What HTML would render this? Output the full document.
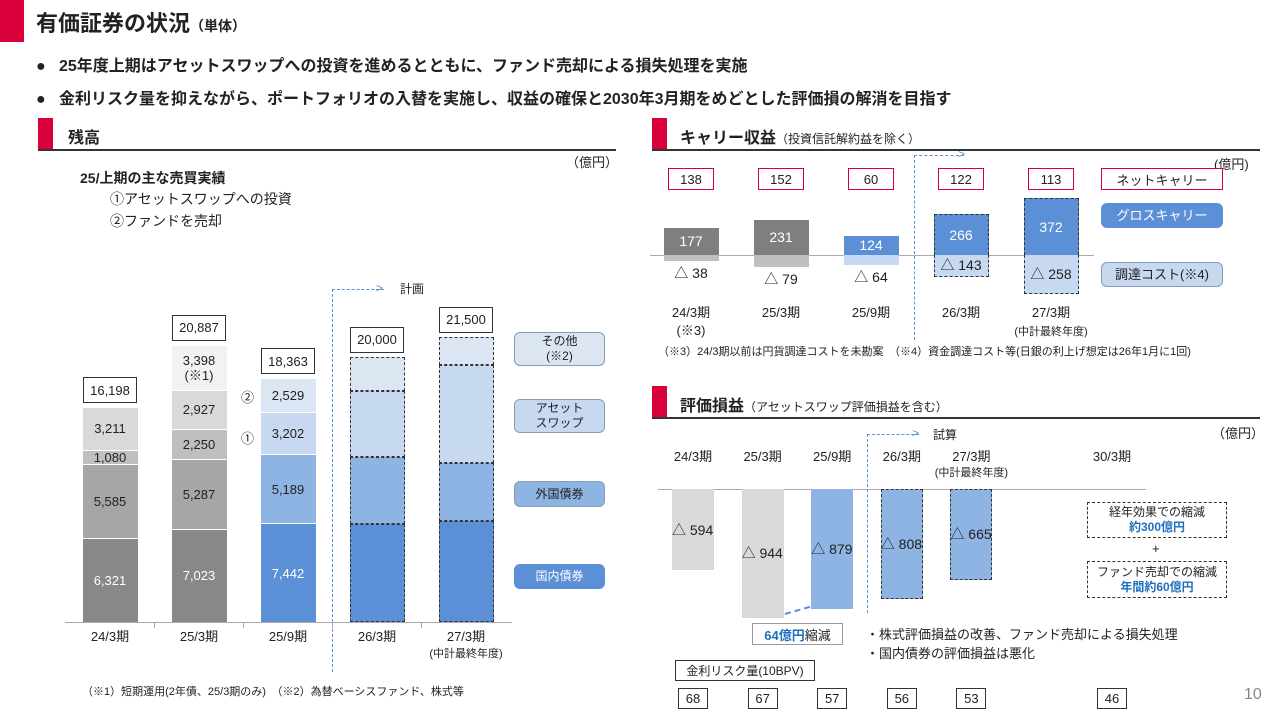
<!DOCTYPE html>
<html><head><meta charset="utf-8">
<style>
*{margin:0;padding:0;box-sizing:border-box}
body{width:1280px;height:720px;background:#fff;position:relative;overflow:hidden;font-family:"Liberation Sans","Noto Sans CJK JP",sans-serif;color:#222}
.a{position:absolute;white-space:nowrap}
.b{font-weight:bold}
.box{position:absolute;border:1px solid #333;background:#fff;display:flex;align-items:center;justify-content:center;font-size:13px}
.leg{position:absolute;border:1px solid #8a9ab0;border-radius:6px;display:flex;align-items:center;justify-content:center;text-align:center;font-size:12px;line-height:15px}
.seg{position:absolute;display:flex;align-items:center;justify-content:center;text-align:center;font-size:13px;line-height:15px}
.ctr{transform:translateX(-50%);text-align:center}
</style></head><body>
<div class="a" style="left:0;top:0;width:24px;height:42px;background:#d9003a"></div>
<div class="a b" style="left:36px;top:6px;font-size:22px">有価証券の状況<span style="font-size:14px">（単体）</span></div>
<div class="a b" style="left:36px;top:52px;font-size:16px">●&nbsp;&nbsp;&nbsp;25年度上期はアセットスワップへの投資を進めるとともに、ファンド売却による損失処理を実施</div>
<div class="a b" style="left:36px;top:85px;font-size:16px">●&nbsp;&nbsp;&nbsp;金利リスク量を抑えながら、ポートフォリオの入替を実施し、収益の確保と2030年3月期をめどとした評価損の解消を目指す</div>

<div class="a" style="left:38px;top:118px;width:15px;height:32px;background:#d9003a"></div>
<div class="a b" style="left:68px;top:124px;font-size:16px">残高</div>
<div class="a" style="left:38px;top:149px;width:578px;height:2px;background:#333"></div>
<div class="a" style="left:652px;top:118px;width:15px;height:32px;background:#d9003a"></div>
<div class="a b" style="left:680px;top:124px;font-size:16px">キャリー収益<span style="font-size:12px;font-weight:normal">（投資信託解約益を除く）</span></div>
<div class="a" style="left:652px;top:149px;width:608px;height:2px;background:#333"></div>
<div class="a" style="left:652px;top:386px;width:15px;height:32px;background:#d9003a"></div>
<div class="a b" style="left:680px;top:392px;font-size:16px">評価損益<span style="font-size:12px;font-weight:normal">（アセットスワップ評価損益を含む）</span></div>
<div class="a" style="left:652px;top:417px;width:608px;height:2px;background:#333"></div>

<div class="a" style="left:566px;top:152px;font-size:13px">（億円）</div>
<div class="a b" style="left:80px;top:168px;font-size:14px">25/上期の主な売買実績</div>
<div class="a" style="left:110px;top:189px;font-size:14px">①アセットスワップへの投資</div>
<div class="a" style="left:110px;top:211px;font-size:14px">②ファンドを売却</div>
<div class="a" style="left:241px;top:387px;font-size:13px">②</div>
<div class="a" style="left:241px;top:428px;font-size:13px">①</div>
<div class="a" style="left:82px;top:683px;font-size:11px">（※1）短期運用(2年債、25/3期のみ)　（※2）為替ベーシスファンド、株式等</div>

<div class="leg" style="left:514px;top:332px;width:91px;height:34px;background:#dce6f2">その他<br>(※2)</div>
<div class="leg" style="left:514px;top:399px;width:91px;height:34px;background:#c6d9f1">アセット<br>スワップ</div>
<div class="leg" style="left:514px;top:481px;width:91px;height:26px;background:#8eb4e3">外国債券</div>
<div class="leg" style="left:514px;top:564px;width:91px;height:25px;background:#5b8fd6;color:#fff;border-color:#5b8fd6">国内債券</div>

<div class="a" style="left:332px;top:289px;width:0;height:383px;border-left:1px dashed #5b8fd6"></div>
<div class="a" style="left:332px;top:289px;width:52px;height:0;border-top:1px dashed #5b8fd6"></div>
<div class="a" style="left:376px;top:281px;font-size:12px;color:#5b8fd6">&gt;</div>
<div class="a" style="left:400px;top:280px;font-size:12px">計画</div>

<div class="a" style="left:1214px;top:154px;font-size:13px">(億円)</div>
<div class="box" style="left:1101px;top:168px;width:122px;height:22px;border-color:#d9003a">ネットキャリー</div>
<div class="leg" style="left:1101px;top:203px;width:122px;height:25px;background:#5b8fd6;color:#fff;border-color:#5b8fd6;font-size:13px">グロスキャリー</div>
<div class="leg" style="left:1101px;top:262px;width:122px;height:25px;background:#c6d9f1;font-size:13px">調達コスト(※4)</div>
<div class="a" style="left:914px;top:155px;width:0;height:185px;border-left:1px dashed #5b8fd6"></div>
<div class="a" style="left:914px;top:155px;width:50px;height:0;border-top:1px dashed #5b8fd6"></div>
<div class="a" style="left:958px;top:147px;font-size:12px;color:#5b8fd6">&gt;</div>
<div class="a" style="left:658px;top:343px;font-size:11px">（※3）24/3期以前は円貨調達コストを未勘案　（※4）資金調達コスト等(日銀の利上げ想定は26年1月に1回)</div>

<div class="a" style="left:1212px;top:423px;font-size:13px">（億円）</div>
<div class="a" style="left:867px;top:434px;width:0;height:179px;border-left:1px dashed #5b8fd6"></div>
<div class="a" style="left:867px;top:434px;width:52px;height:0;border-top:1px dashed #5b8fd6"></div>
<div class="a" style="left:912px;top:426px;font-size:12px;color:#5b8fd6">&gt;</div>
<div class="a" style="left:933px;top:426px;font-size:12px">試算</div>
<div class="box" style="left:1087px;top:502px;width:140px;height:36px;border:1px dashed #333;flex-direction:column;font-size:12px;line-height:15px">経年効果での縮減<span class="b" style="color:#1f6fbf">約300億円</span></div>
<div class="a" style="left:1152px;top:541px;font-size:13px">+</div>
<div class="box" style="left:1087px;top:561px;width:140px;height:37px;border:1px dashed #333;flex-direction:column;font-size:12px;line-height:15px">ファンド売却での縮減<span class="b" style="color:#1f6fbf">年間約60億円</span></div>
<div class="box" style="left:752px;top:623px;width:91px;height:22px;border-color:#999;font-size:13px"><span class="b" style="color:#1f6fbf">64億円</span>縮減</div>
<div class="a" style="left:785px;top:613px;width:26px;height:0;border-top:2px dashed #5b8fd6;transform:rotate(-16deg);transform-origin:left"></div>
<div class="a" style="left:866px;top:624px;font-size:13px">・株式評価損益の改善、ファンド売却による損失処理</div>
<div class="a" style="left:866px;top:643px;font-size:13px">・国内債券の評価損益は悪化</div>
<div class="box" style="left:675px;top:660px;width:140px;height:21px;font-size:12px">金利リスク量(10BPV)</div>
<div class="a" style="left:1244px;top:686px;font-size:16px;color:#888">10</div>

<div id="charts"></div>
<script>
const balCats = ["24/3期","25/3期","25/9期","26/3期","27/3期"];
const balDomestic = [6321,7023,7442,7400,7600];
const balForeign = [5585,5287,5189,5000,4400];
const balMid = [1080,2250,3202,5000,7400];
const balOther = [3211,2927,2529,2600,2100];
const balShort = [0,3398,0,0,0];
const balTotals = ["16,198","20,887","18,363","20,000","21,500"];
const balShowLabels = [true,true,true,false,false];
const carryCats = ["24/3期","25/3期","25/9期","26/3期","27/3期"];
const carryGross = [177,231,124,266,372];
const carryCost = [38,79,64,143,258];
const carryNet = [138,152,60,122,113];
const valCats = ["24/3期","25/3期","25/9期","26/3期","27/3期","30/3期"];
const valLoss = [594,944,879,808,665,0];
const riskBpv = [68,67,57,56,53,46];

const root = document.getElementById('charts');
function mk(cls, style, html){
  const d=document.createElement('div'); d.className=cls; d.style.cssText=style; if(html!==undefined) d.innerHTML=html; root.appendChild(d); return d;
}
function fmt(v){return v.toLocaleString('en-US');}

const bBase=622, bK=0.01327, bX0=110, bStep=89, bW=55;
const bx = i => bX0 + i*bStep;
const by = v => bBase - v*bK;
let ax=mk('a','left:65px;top:'+bBase+'px;width:447px;height:1px;background:#aaa');


balCats.forEach((c,i)=>{
  const plan = i>=3;
  const grayCols=['#888888','#a6a6a6','#bfbfbf','#d9d9d9','#f2f2f2'];
  const blueCols=['#5b8fd6','#8eb4e3','#c6d9f1','#dce6f2'];
  const segs=[balDomestic[i],balForeign[i],balMid[i],balOther[i]];
  let names=['domestic','foreign','mid','other'];
  let cols;
  if(i<2){ cols=grayCols; if(i===1){segs.push(balShort[i]);names.push('short-term');} }
  else cols=blueCols;
  let acc=0;
  segs.forEach((v,j)=>{
    const top=by(acc+v), h=v*bK;
    const white = (j===0);
    const s=mk('seg','left:'+(bx(i)-bW/2)+'px;top:'+top+'px;width:'+bW+'px;height:'+h+'px;background:'+cols[j]+';color:'+(white?'#fff':'#222')+';'+(plan?'border:1px dashed #333;':'border-top:1px solid #fff;'),
      balShowLabels[i]?(names[j]==='short-term'?fmt(v)+'<br>(※1)':fmt(v)):'');
    
    
    acc+=v;
  });
  const tb=mk('box','left:'+(bx(i)-27)+'px;top:'+(by(acc)-30)+'px;width:54px;height:26px;border-width:1.5px',balTotals[i]);
  
  
  const lb=mk('a ctr','left:'+bx(i)+'px;top:629px;font-size:13px;line-height:16px',c+(i===4?'<br><span style="font-size:11px">(中計最終年度)</span>':''));
  
  
  if(i<4){const t=mk('a','left:'+(bx(i)+44)+'px;top:'+bBase+'px;width:1px;height:6px;background:#aaa');
  
  }
});

const cBase=255, cK=0.1525, cX0=691, cStep=90, cW=55;
const cx = i => cX0 + i*cStep;
let cax=mk('a','left:650px;top:'+cBase+'px;width:444px;height:1px;background:#aaa');


carryCats.forEach((c,i)=>{
  const plan=i>=3, gray=i<2;
  const gh=carryGross[i]*cK, ch=carryCost[i]*cK;
  const g=mk('seg','left:'+(cx(i)-cW/2)+'px;top:'+(cBase-gh)+'px;width:'+cW+'px;height:'+gh+'px;background:'+(gray?'#7f7f7f':'#5b8fd6')+';color:#fff;font-size:14px;'+(plan?'border:1px dashed #333;border-bottom:none;':''),String(carryGross[i]));
  
  
  const k=mk('seg','left:'+(cx(i)-cW/2)+'px;top:'+cBase+'px;width:'+cW+'px;height:'+ch+'px;background:'+(gray?'#bfbfbf':'#c6d9f1')+';font-size:14px;'+(plan?'border:1px dashed #333;border-top:none;':''),plan?'△ '+carryCost[i]:'');
  
  
  if(!plan){const l=mk('a ctr','left:'+cx(i)+'px;top:'+(cBase+ch+2)+'px;font-size:14px','△ '+carryCost[i]);
  
  }
  const n=mk('box','left:'+(cx(i)-23)+'px;top:168px;width:46px;height:22px;border-color:#d9003a',String(carryNet[i]));
  
  
  const lb=mk('a ctr','left:'+cx(i)+'px;top:304px;font-size:13px;line-height:18px',c+(i===0?'<br>(※3)':'')+(i===4?'<br><span style="font-size:11px">(中計最終年度)</span>':''));
  
  
});

const vBase=489, vK=0.1364, vX0=693, vStep=69.6, vW=42;
const vx = i => i===5 ? 1112 : vX0 + i*vStep;
let vax=mk('a','left:658px;top:'+vBase+'px;width:488px;height:1px;background:#aaa');


valCats.forEach((c,i)=>{
  const plan=i>=3&&i<5;
  if(valLoss[i]>0){
    const h=valLoss[i]*vK;
    const b=mk('a','left:'+(vx(i)-vW/2)+'px;top:'+vBase+'px;width:'+vW+'px;height:'+h+'px;background:'+(i<2?'#d9d9d9':'#8eb4e3')+';'+(plan?'border:1px dashed #333;':''));
    
    
    const l=mk('a','left:'+(vx(i)-vW/2)+'px;top:'+(vBase+h/2-10)+'px;font-size:14px','△ '+valLoss[i]);
    
    
  }
  const lb=mk('a ctr','left:'+vx(i)+'px;top:449px;font-size:13px;line-height:15px',c+(i===4?'<br><span style="font-size:11px">(中計最終年度)</span>':''));
  
  
  const r=mk('box','left:'+(vx(i)-15)+'px;top:688px;width:30px;height:21px',String(riskBpv[i]));
  
  
});
</script>
</body></html>
